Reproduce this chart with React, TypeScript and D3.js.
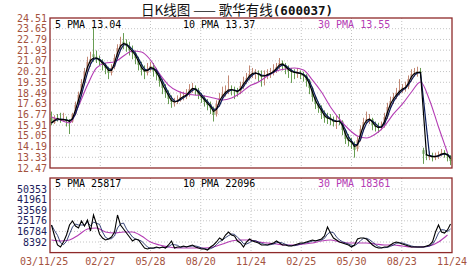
import React from "react";
import * as d3 from "d3";

// ---- data (sampled ~every 3-4 trading days) ----
const closes = [16.08,16.48,16.40,16.32,16.40,16.24,16.16,16.73,17.53,18.33,19.21,20.18,20.98,21.22,21.38,21.22,21.06,20.74,20.50,20.10,
20.50,21.30,22.10,22.42,22.50,22.26,21.94,21.70,21.30,20.74,20.34,20.18,20.42,20.66,20.26,20.02,19.45,18.89,18.57,18.01,
17.77,17.77,17.93,18.17,18.25,18.41,18.81,18.89,18.73,18.33,18.09,17.77,17.53,17.29,16.73,17.61,18.09,18.41,18.65,18.81,
18.73,18.65,18.57,19.05,19.37,19.69,20.02,20.10,20.10,19.94,19.77,19.94,20.02,20.10,20.34,20.58,20.90,20.74,20.50,20.26,
20.18,20.10,20.10,20.02,19.86,19.53,18.89,18.17,17.61,17.29,16.89,16.48,16.48,16.32,16.16,16.24,16.24,15.52,14.80,14.64,
14.48,13.92,14.72,15.60,16.16,16.40,16.40,15.92,15.76,15.68,15.84,16.56,17.37,17.85,18.17,18.49,18.73,18.89,18.97,19.61,
20.02,20.10,20.18,20.10,13.60,13.45,13.43,13.35,13.43,13.51,13.68,13.60,13.43,13.03];
const opens = [16.5,16.1,16.5,16.4,16.3,16.4,16.2,16.2,16.8,17.6,18.4,19.3,20.2,21.0,21.6,21.4,21.2,21.0,20.7,20.4,
20.1,20.6,21.4,22.1,22.6,22.5,22.2,21.9,21.7,21.2,20.8,20.3,20.1,20.4,20.6,20.2,19.9,19.4,18.9,18.5,
18.0,17.7,17.8,17.9,18.2,18.2,18.4,18.8,18.9,18.7,18.3,18.1,17.8,17.6,17.2,16.8,17.6,18.1,18.4,18.6,
18.8,18.7,18.6,18.6,19.0,19.4,19.7,20.0,20.1,20.1,19.9,19.8,19.9,20.0,20.1,20.3,20.6,20.9,20.7,20.5,
20.3,20.2,20.1,20.1,20.0,19.9,19.5,18.9,18.2,17.6,17.3,16.9,16.5,16.5,16.3,16.2,16.3,16.2,15.5,14.8,
14.6,14.4,14.0,14.8,15.6,16.2,16.4,16.4,15.9,15.8,15.7,15.9,16.6,17.4,17.9,18.2,18.5,18.7,18.9,19.0,
19.6,20.0,20.1,20.2,13.9,13.6,13.4,13.4,13.3,13.4,13.5,13.7,13.6,13.4];
const highs = [17.0,16.7,16.8,16.9,16.9,16.6,16.4,16.9,17.8,18.6,19.6,20.5,21.4,21.8,23.7,21.9,21.5,21.2,20.9,20.6,
20.8,21.6,22.4,23.0,23.3,22.8,22.6,22.3,21.9,21.4,21.0,20.7,20.9,21.0,20.9,20.5,20.1,19.6,19.2,18.7,
18.3,18.1,18.3,18.6,18.6,18.8,19.2,19.3,19.1,18.9,18.5,18.3,18.0,17.8,17.4,17.9,18.5,19.0,19.1,19.9,
19.1,19.0,18.9,19.4,19.8,20.1,20.7,20.5,20.4,20.3,20.3,20.3,20.4,20.5,20.8,20.9,21.3,21.1,20.9,20.7,
20.5,20.4,20.5,20.3,20.2,20.0,19.6,19.0,18.3,17.8,17.5,17.1,16.9,16.8,16.6,16.7,16.8,16.3,15.6,15.2,
14.9,14.6,15.0,15.9,16.5,17.0,16.8,16.5,16.2,16.1,16.2,16.9,17.7,18.2,18.5,18.9,19.6,19.2,19.4,19.9,
20.4,20.5,20.6,20.5,14.1,13.9,13.8,13.7,13.7,13.8,14.0,13.9,13.7,13.5];
const lows = [15.9,16.0,16.2,16.1,16.2,15.8,15.2,16.1,16.7,17.5,18.2,19.1,20.0,20.6,21.0,20.9,20.7,20.3,20.0,19.6,
19.9,20.4,21.2,21.9,22.0,21.8,21.5,21.2,20.8,20.3,19.9,19.6,19.9,20.2,19.8,19.5,19.0,18.4,18.1,17.6,
17.3,17.4,17.6,17.8,17.9,18.0,18.2,18.5,18.3,18.0,17.7,17.4,17.1,16.8,16.2,16.6,17.4,17.9,18.2,18.4,
18.3,18.0,18.2,18.4,18.8,19.2,19.5,19.7,19.6,19.4,19.0,19.1,19.6,19.7,19.9,20.1,20.4,20.3,20.0,19.7,
19.3,19.6,19.7,19.6,19.4,19.0,18.4,17.8,17.2,16.9,16.4,16.1,16.0,15.9,15.8,15.6,15.9,15.1,14.4,14.2,
14.0,13.3,13.8,14.6,15.4,16.0,16.0,15.5,15.4,15.3,15.5,15.7,16.4,17.2,17.6,18.0,18.3,18.5,18.6,18.8,
19.4,19.8,19.8,19.7,12.8,13.1,13.1,13.0,13.1,13.2,13.4,13.3,13.0,12.7];
const priceMa30 = [16.56,16.32,16.08,17.45,19.13,20.50,20.90,20.98,21.46,21.86,21.78,21.14,20.02,19.13,18.65,18.41,18.33,18.25,18.09,17.93,
18.09,18.49,19.05,19.37,19.86,20.26,20.42,20.50,20.34,19.53,18.57,17.37,16.40,15.60,15.04,14.88,15.20,15.84,16.81,17.61,
18.57,19.37,17.93,15.76,13.68];
const vol5 = [21851,13142,6017,4434,8392,13934,21851,25018,21059,19476,25018,21059,25809,17101,29768,22643,14726,11559,9975,10767,
12351,16309,29768,21851,18684,15517,12351,9184,10767,9975,6809,3642,2850,3642,3642,4434,3642,4434,3642,6017,
9184,3642,4434,4434,5225,4434,5225,6017,4434,3642,2850,2850,2058,4434,6017,8392,11559,9975,13934,16309,
13934,13142,9184,7600,4434,8392,10767,9184,8392,7600,6017,6017,6017,6809,7600,9184,7600,6017,6017,5225,
5225,6017,6809,7600,7600,8392,9184,9975,9184,9975,10767,13142,20268,15517,11559,9975,8392,7600,6809,6017,
4434,6017,10767,11559,11559,10767,8392,6017,4434,3642,3642,4434,4434,6017,7600,8392,7600,6809,6017,5225,
4434,4434,4434,4434,4434,5225,6017,8392,16309,21851,16309,15517,17893,22643];
const volMa30 = [9975,9184,9975,13934,18684,19476,16309,15517,16309,16309,13142,8392,6017,4434,3642,3642,3642,3642,4434,6809,
9184,9975,9975,8392,7600,6809,6017,6017,6809,7600,9184,9975,8392,7600,7600,7600,6809,6017,6017,5225,
4434,4434,5225,8392,13934];
const ma30Step = 3;

const priceTicks = ["24.51","23.65","22.79","21.93","21.07","20.21","19.35","18.49","17.63","16.77","15.91","15.05","14.19","13.33","12.47"];
const volTicks = [50353, 41961, 33569, 25176, 16784, 8392];
const dateLabels = ["03/11/25","02/27","05/28","08/20","11/24","02/25","05/30","08/23","11/24"];
const priceLegend = ["5 PMA 13.04", "10 PMA 13.37", "30 PMA 13.55"];
const volLegend = ["5 PMA 25817", "10 PMA 22096", "30 PMA 18361"];
const title = "日K线图 —— 歌华有线";
const code = "(600037)";

const rolling = (arr: number[], w: number) =>
  arr.map((_, i) => d3.mean(arr.slice(Math.max(0, i - w + 1), i + 1)) as number);

export default function App() {
  const W = 472, H = 273;
  const L = 50, R = 452;
  const pTop = 18, pBot = 168;
  const vTop = 178, vBot = 252.6;
  const n = closes.length;
  const x = d3.scaleLinear().domain([0, n]).range([L, R]);
  const cx = (i: number) => x(i + 0.5);
  const yP = d3.scaleLinear().domain([+priceTicks[priceTicks.length - 1], +priceTicks[0]]).range([pBot, pTop]);
  const yV = d3.scaleLinear().domain([0, volTicks[0] * (vBot - vTop) / (vBot - 189)]).range([vBot, vTop]);

  const line = (ys: (v: number) => number) =>
    d3.line<number>().x((_, i) => cx(i)).y((v) => ys(v));
  const lineStep = (ys: (v: number) => number, step: number) =>
    d3.line<number>().x((_, i) => cx(i * step)).y((v) => ys(v)).curve(d3.curveMonotoneX);

  const ma5 = rolling(closes, 2);
  const ma10 = rolling(closes, 3);
  const vma10 = rolling(vol5, 3);

  const labelColor = "#a4523e";
  const border = "#8e2a2a";
  const grid = "#c4c4c4";
  const magenta = "#b43cb4";
  const navy = "#0a1a5a";
  const mono = "'DejaVu Sans Mono', monospace";

  const dateX = dateLabels.map((_, k) => x((n * k) / (dateLabels.length - 1)));

  return (
    <svg width={W} height={H} style={{ position: "absolute", left: 0, top: 0, background: "#fff" }}>
      <rect x={0} y={0} width={W} height={H} fill="#fff" />
      <text x={237} y={15} textAnchor="middle" fontSize={13.5} fill="#111"
        fontFamily="'Noto Sans CJK SC', sans-serif">
        {title}
        <tspan fontFamily={mono} fontWeight="bold" fontSize={12.5}>{code}</tspan>
      </text>

      {/* price panel grid */}
      {priceTicks.map((t, k) => (
        <g key={"pt" + k}>
          {k > 0 && k < priceTicks.length - 1 && (
            <line x1={L} x2={R} y1={yP(+t)} y2={yP(+t)} stroke={grid} strokeDasharray="1,2" />
          )}
          <text x={47} y={yP(+t)} dy="0.35em" textAnchor="end" fontSize={10} fontFamily={mono} fill={labelColor}>{t}</text>
        </g>
      ))}
      {dateX.slice(1, -1).map((dx, k) => (
        <g key={"vg" + k}>
          <line x1={dx} x2={dx} y1={pTop} y2={pBot} stroke={grid} strokeDasharray="1,2" />
          <line x1={dx} x2={dx} y1={vTop} y2={vBot} stroke={grid} strokeDasharray="1,2" />
        </g>
      ))}

      {/* candles */}
      {closes.map((c, i) => {
        const up = c >= opens[i];
        const col = up ? "#b8745c" : "#4e8c34";
        const y1 = yP(Math.max(c, opens[i]));
        const y2 = yP(Math.min(c, opens[i]));
        return (
          <g key={"c" + i} opacity={0.85}>
            <line x1={cx(i)} x2={cx(i)} y1={yP(highs[i])} y2={yP(lows[i])} stroke={col} strokeWidth={1} />
            <rect x={cx(i) - 1} y={y1} width={2} height={Math.max(1, y2 - y1)} fill={col} />
          </g>
        );
      })}
      <path d={lineStep(yP, ma30Step)(priceMa30) || ""} fill="none" stroke={magenta} strokeWidth={1.1} />
      <path d={line(yP)(ma10) || ""} fill="none" stroke={navy} strokeWidth={1.2} />
      <path d={line(yP)(ma5) || ""} fill="none" stroke="#000" strokeWidth={1.2} />

      <rect x={L} y={pTop} width={R - L} height={pBot - pTop} fill="none" stroke={border} strokeWidth={1.3} />
      <text x={55} y={28} fontSize={10} fontFamily={mono} fill="#000">{priceLegend[0]}</text>
      <text x={183} y={28} fontSize={10} fontFamily={mono} fill="#000">{priceLegend[1]}</text>
      <text x={318} y={28} fontSize={10} fontFamily={mono} fill={magenta}>{priceLegend[2]}</text>

      {/* volume panel */}
      {volTicks.map((t, k) => (
        <g key={"vt" + k}>
          <line x1={L} x2={R} y1={yV(t)} y2={yV(t)} stroke={grid} strokeDasharray="1,2" />
          <text x={47} y={yV(t)} dy="0.35em" textAnchor="end" fontSize={10} fontFamily={mono} fill="#1c1c5c">{t}</text>
        </g>
      ))}
      <path d={lineStep(yV, ma30Step)(volMa30) || ""} fill="none" stroke={magenta} strokeWidth={1.1} />
      <path d={line(yV)(vma10) || ""} fill="none" stroke={navy} strokeWidth={1} opacity={0.8} />
      <path d={line(yV)(vol5) || ""} fill="none" stroke="#000" strokeWidth={1.1} />
      <rect x={L} y={vTop} width={R - L} height={vBot - vTop} fill="none" stroke={border} strokeWidth={1.3} />
      <text x={55} y={187} fontSize={10} fontFamily={mono} fill="#000">{volLegend[0]}</text>
      <text x={183} y={187} fontSize={10} fontFamily={mono} fill="#000">{volLegend[1]}</text>
      <text x={318} y={187} fontSize={10} fontFamily={mono} fill={magenta}>{volLegend[2]}</text>

      {dateLabels.map((d, k) => (
        <text key={"d" + k} x={k === 0 ? 20 : dateX[k]} y={265} textAnchor={k === 0 ? "start" : "middle"}
          fontSize={10} fontFamily={mono} fill={labelColor}>{d}</text>
      ))}
    </svg>
  );
}
